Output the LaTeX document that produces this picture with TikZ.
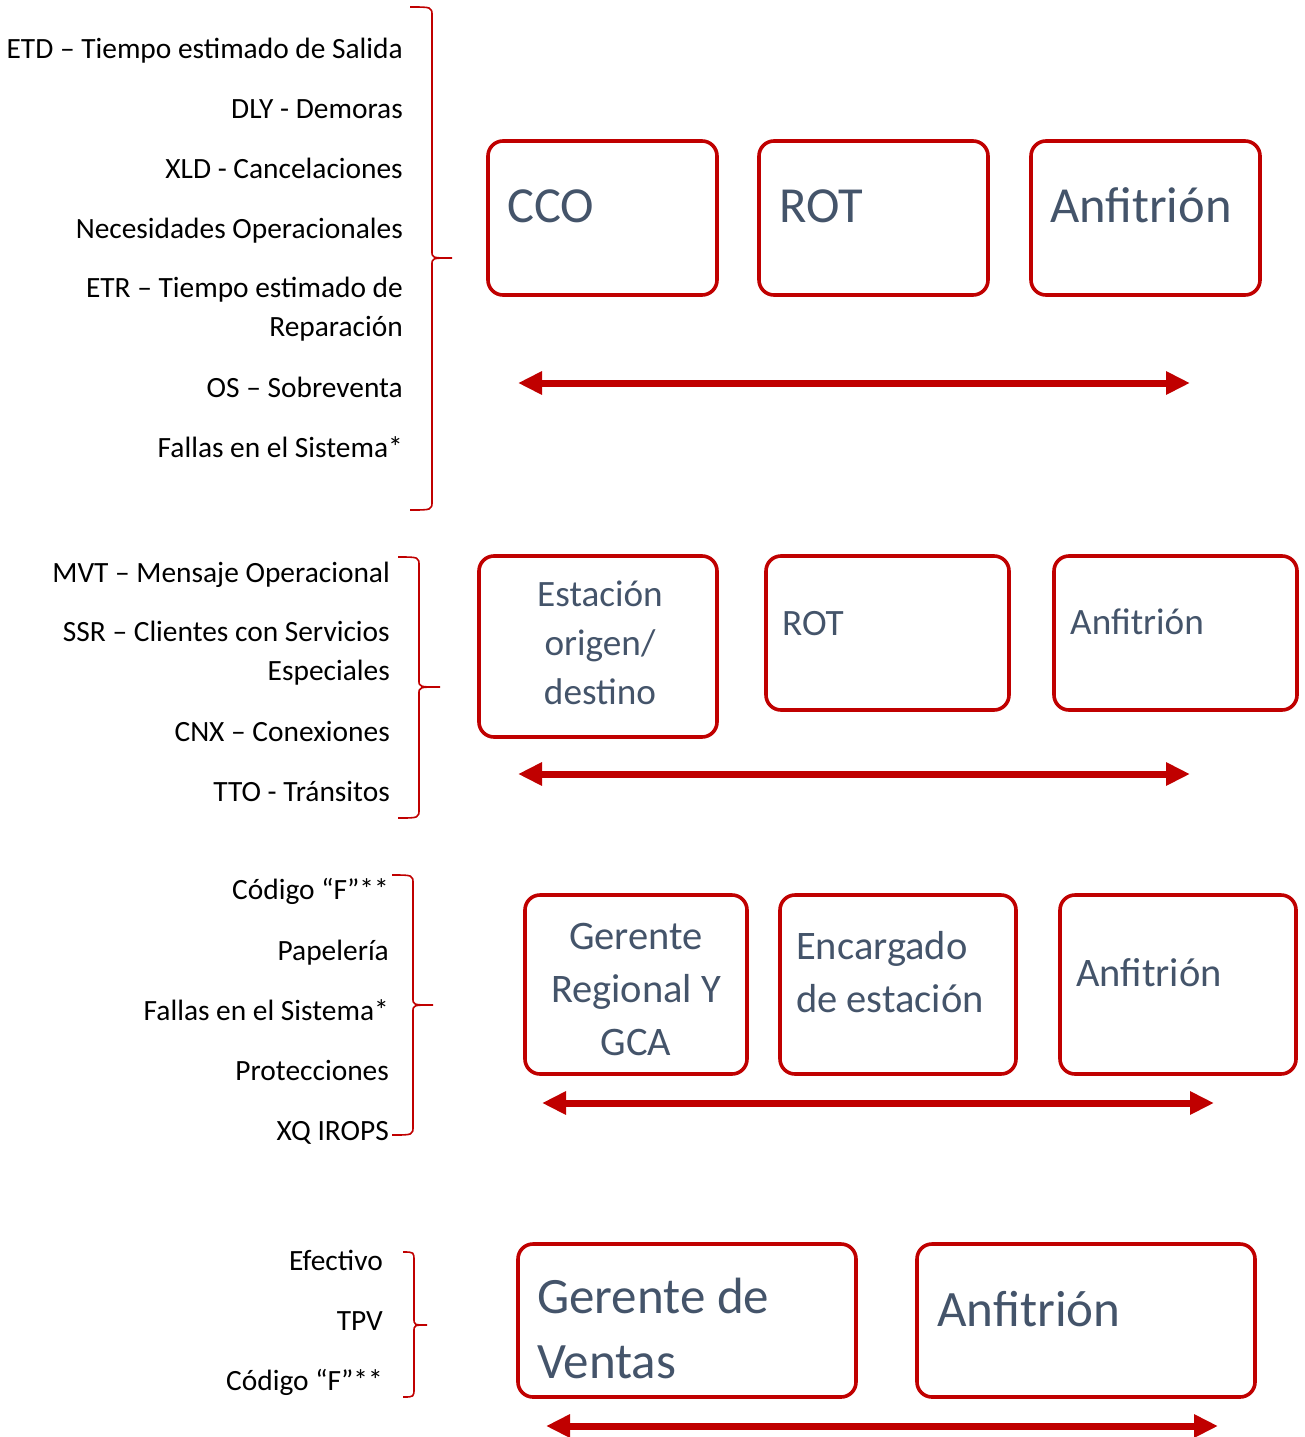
\documentclass[tikz,border=0pt]{standalone}
\usepackage{fontspec}
\setmainfont{Carlito}
\usetikzlibrary{arrows.meta}
\definecolor{dred}{HTML}{C00000}
\definecolor{slate}{HTML}{44546A}
\newcommand\officebrace[6]{% x0 x1 xtip top mid bot
  \draw[brc] (#1,#4) .. controls (#2,#4) .. (#2,#4+9) -- (#2,#5-7)
    .. controls (#2,#5) .. (#3,#5) .. controls (#2,#5) .. (#2,#5+7)
    -- (#2,#6-9) .. controls (#2,#6) .. (#1,#6);}
\begin{document}
\begin{tikzpicture}[x=1pt,y=-1pt,
  box/.style={draw=dred, line width=3.6pt, rounded corners=15pt, inner sep=0pt, outer sep=0pt},
  lbl/.style={anchor=base east, inner sep=0pt, font=\fontsize{29.4}{39}\selectfont, text=black},
  lblm/.style={anchor=east, inner sep=0pt, align=right, font=\fontsize{29.4}{39}\selectfont, text=black},
  btxt/.style={inner sep=0pt, text=slate},
  brc/.style={draw=dred, line width=1.6pt},
  dbl/.style={draw=dred, line width=7pt, {Triangle[length=24pt,width=22pt]}-{Triangle[length=24pt,width=22pt]}}
]
\useasboundingbox (0,0) rectangle (1304,1437);
\fill[white] (0,0) rectangle (1304,1437);

% ---------- Section 1 ----------
\node[lbl] (a1) at (403,58.5) {ETD – Tiempo estimado de Salida};
\node[lbl] (a2) at (403,118.5) {DLY - Demoras};
\node[lbl] (a3) at (403,178.5) {XLD - Cancelaciones};
\node[lbl] (a4) at (403,238.5) {Necesidades Operacionales};
\node[lblm] (a5) at (403,309) {ETR – Tiempo estimado de\\Reparación};
\node[lbl] (a6) at (403,397.5) {OS – Sobreventa};
\node[lbl] (a7) at (403,457.5) {Fallas en el Sistema*};
\officebrace{410}{432}{452}{7}{258}{510}

\node[box, minimum width=229pt, minimum height=154pt] (cco) at (602.5,218) {};
\node[box, minimum width=229pt, minimum height=154pt] (rot1) at (873.5,218) {};
\node[box, minimum width=229pt, minimum height=154pt] (anf1) at (1145.5,218) {};
\node[btxt, anchor=base west, font=\fontsize{50.5}{60}\selectfont] (tcco) at (507,222) {CCO};
\node[btxt, anchor=base west, font=\fontsize{50.5}{60}\selectfont] (trot1) at (779,222) {ROT};
\node[btxt, anchor=base west, font=\fontsize{50.5}{60}\selectfont] (tanf1) at (1050,222) {Anfitrión};
\coordinate (l1) at (518,383);
\coordinate (r1) at (1190,383);
\draw[dbl] (l1) -- (r1);

% ---------- Section 2 ----------
\node[lbl] (b1) at (390,582.5) {MVT – Mensaje Operacional};
\node[lblm] (b2) at (390,653) {SSR – Clientes con Servicios\\Especiales};
\node[lbl] (b3) at (390,741.5) {CNX – Conexiones};
\node[lbl] (b4) at (390,801.5) {TTO - Tránsitos};
\officebrace{398}{419}{440}{557}{687}{818}

\node[box, minimum width=238pt, minimum height=181pt] (est) at (598,646.5) {};
\node[box, minimum width=243pt, minimum height=154pt] (rot2) at (887.5,633) {};
\node[box, minimum width=243pt, minimum height=154pt] (anf2) at (1175.5,633) {};
\node[btxt, align=center, font=\fontsize{37.2}{49}\selectfont] (test) at (600,643) {Estación\\origen/\\destino};
\node[btxt, anchor=base west, font=\fontsize{37.2}{44}\selectfont] (trot2) at (782,635) {ROT};
\node[btxt, anchor=base west, font=\fontsize{37.2}{44}\selectfont] (tanf2) at (1070,634) {Anfitrión};
\coordinate (l2) at (518,774);
\coordinate (r2) at (1190,774);
\draw[dbl] (l2) -- (r2);

% ---------- Section 3 ----------
\node[lbl] (c1) at (389,899.5) {Código “F”**};
\node[lbl] (c2) at (389,960.5) {Papelería};
\node[lbl] (c3) at (389,1020.5) {Fallas en el Sistema*};
\node[lbl] (c4) at (389,1080.5) {Protecciones};
\node[lbl] (c5) at (389,1140.5) {XQ IROPS};
\officebrace{392}{413}{433}{875}{1005}{1135}

\node[box, minimum width=222pt, minimum height=179pt] (ger) at (636,984.5) {};
\node[box, minimum width=236pt, minimum height=179pt] (enc) at (898,984.5) {};
\node[box, minimum width=236pt, minimum height=179pt] (anf3) at (1178,984.5) {};
\node[btxt, align=center, font=\fontsize{40.5}{53}\selectfont] (tger) at (636,989) {Gerente\\Regional Y\\GCA};
\node[btxt, anchor=west, align=left, font=\fontsize{40.5}{53}\selectfont] (tenc) at (796,972.5) {Encargado\\de estación};
\node[btxt, anchor=base west, font=\fontsize{40.5}{48}\selectfont] (tanf3) at (1076,986) {Anfitrión};
\coordinate (l3) at (542,1103);
\coordinate (r3) at (1214,1103);
\draw[dbl] (l3) -- (r3);

% ---------- Section 4 ----------
\node[lbl] (d1) at (383,1270.5) {Efectivo};
\node[lbl] (d2) at (383,1330.5) {TPV};
\node[lbl] (d3) at (383,1390.5) {Código “F”**};
\officebrace{403}{414}{427}{1252}{1325}{1397}

\node[box, minimum width=338pt, minimum height=153pt] (gv) at (687,1320.5) {};
\node[box, minimum width=338pt, minimum height=153pt] (anf4) at (1086,1320.5) {};
\node[btxt, anchor=west, align=left, font=\fontsize{51}{65}\selectfont] (tgv) at (537,1328) {Gerente de\\Ventas};
\node[btxt, anchor=base west, font=\fontsize{51}{60}\selectfont] (tanf4) at (937,1326) {Anfitrión};
\coordinate (l4) at (546,1426);
\coordinate (r4) at (1218,1426);
\draw[dbl] (l4) -- (r4);
\end{tikzpicture}
\end{document}
